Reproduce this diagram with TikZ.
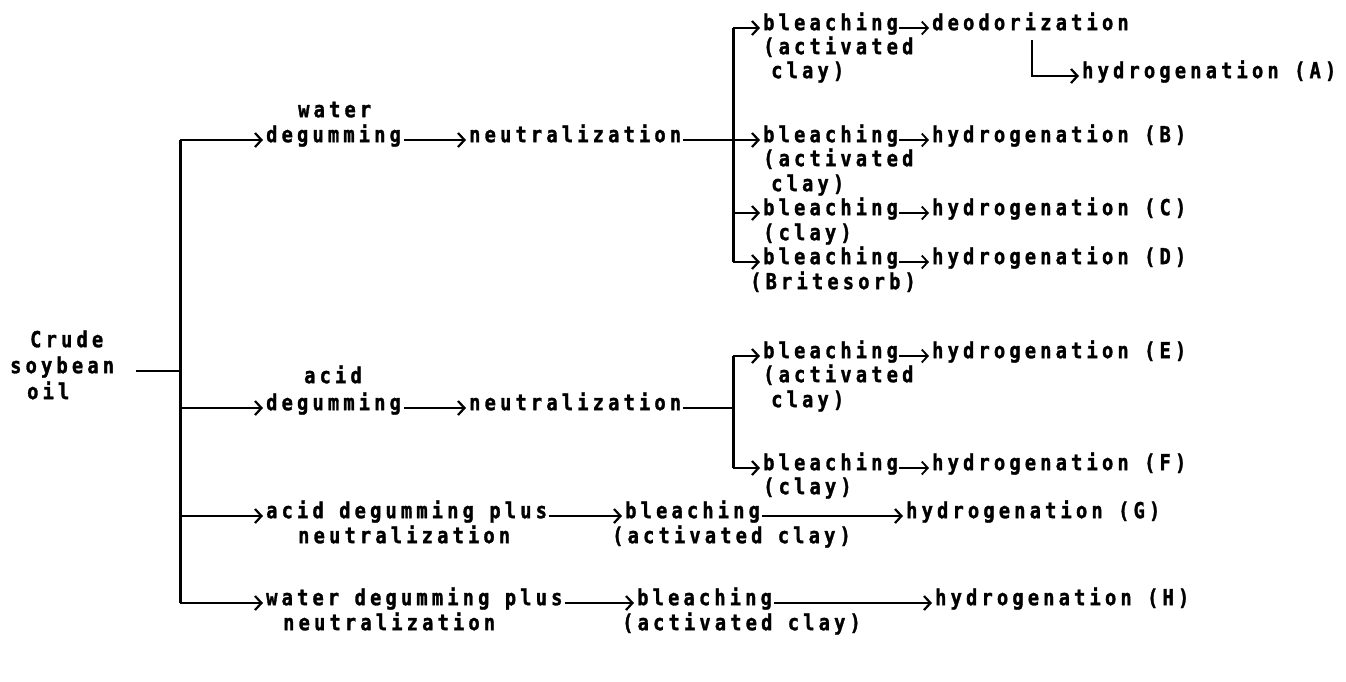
\documentclass[tikz,border=0pt]{standalone}
\usepackage{fontspec}
\newfontfamily\dfont[LetterSpace=19,FakeBold=1.4,FakeStretch=0.85]{DejaVu Sans Mono}
\usetikzlibrary{arrows.meta}
\begin{document}
\begin{tikzpicture}[x=1pt,y=-1pt,
  txt/.style={anchor=mid west,inner sep=0pt,font=\dfont\bfseries\fontsize{22}{26}\selectfont},
  conn/.style={line width=2.2pt},
  vert/.style={line width=3pt},
  arr/.style={conn,-{Straight Barb[length=6.5pt,width=14pt]},shorten >=3pt},
  sarr/.style={line width=1.8pt,-{Straight Barb[length=6pt,width=13pt]},shorten <=1pt,shorten >=3pt}]
\useasboundingbox[fill=white] (0,0) rectangle (1346,681);
% left label
\node[txt] (crude) at (30,345) {Crude};
\node[txt] (soy) at (10,371) {soybean};
\node[txt] (oil) at (27,397) {oil};
% first column
\node[txt] (waterA) at (298,115) {water};
\node[txt] (degW) at (266,140) {degumming};
\node[txt] (neutW) at (469,140) {neutralization};
\node[txt] (acidA) at (304,381) {acid};
\node[txt] (degA) at (266,408) {degumming};
\node[txt] (neutA) at (469,408) {neutralization};
\node[txt] (acidplus) at (266,516) {acid degumming plus};
\node[txt] (neutG) at (298,541) {neutralization};
\node[txt] (waterplus) at (266,603) {water degumming plus};
\node[txt] (neutH) at (283,628) {neutralization};
% G and H rows
\node[txt] (bleachG) at (625,516) {bleaching};
\node[txt] (actG) at (612,541) {(activated clay)};
\node[txt] (hydroG) at (906,516) {hydrogenation (G)};
\node[txt] (bleachH) at (637,603) {bleaching};
\node[txt] (actH) at (622,628) {(activated clay)};
\node[txt] (hydroH) at (935,603) {hydrogenation (H)};
% branch 1
\node[txt] (bleachA) at (763,28) {bleaching};
\node[txt] (deodor) at (932,28) {deodorization};
\node[txt] (actA) at (763,52) {(activated};
\node[txt] (clayA) at (771,76) {clay)};
\node[txt] (hydroA) at (1082,76) {hydrogenation (A)};
\node[txt] (bleachB) at (763,140) {bleaching};
\node[txt] (hydroB) at (932,140) {hydrogenation (B)};
\node[txt] (actB) at (763,164) {(activated};
\node[txt] (clayB) at (771,189) {clay)};
\node[txt] (bleachC) at (763,213) {bleaching};
\node[txt] (hydroC) at (932,213) {hydrogenation (C)};
\node[txt] (clayC) at (763,238) {(clay)};
\node[txt] (bleachD) at (763,262) {bleaching};
\node[txt] (hydroD) at (932,262) {hydrogenation (D)};
\node[txt] (brite) at (750,287) {(Britesorb)};
% branch 2
\node[txt] (bleachE) at (763,356) {bleaching};
\node[txt] (hydroE) at (932,356) {hydrogenation (E)};
\node[txt] (actE) at (763,380) {(activated};
\node[txt] (clayE) at (771,405) {clay)};
\node[txt] (bleachF) at (763,468) {bleaching};
\node[txt] (hydroF) at (932,468) {hydrogenation (F)};
\node[txt] (clayF) at (763,492) {(clay)};
% coordinates
\coordinate (soyL) at (136,371);
\coordinate (tSoy) at (180,371);
\coordinate (tW) at (180,140);
\coordinate (tA) at (180,408);
\coordinate (tG) at (180,516);
\coordinate (tH) at (180,603);
\coordinate (b1top) at (733,28);
\coordinate (b1mid) at (733,140);
\coordinate (b1c) at (733,213);
\coordinate (b1bot) at (733,262);
\coordinate (b2top) at (733,356);
\coordinate (b2mid) at (733,408);
\coordinate (b2bot) at (733,468);
\coordinate (dA) at (1032,40);
% trunk
\draw[conn] (soyL) -- (tSoy);
\draw[vert] (tW) -- (tH);
\draw[arr] (tW) -- (degW.mid west);
\draw[arr] (tA) -- (degA.mid west);
\draw[arr] (tG) -- (acidplus.mid west);
\draw[arr] (tH) -- (waterplus.mid west);
% first column arrows
\draw[arr,shorten <=3pt] (degW.mid east) -- (neutW.mid west);
\draw[arr,shorten <=3pt] (degA.mid east) -- (neutA.mid west);
\draw[arr,shorten <=2pt] (acidplus.mid east) -- (bleachG.mid west);
\draw[arr,shorten <=2pt] (waterplus.mid east) -- (bleachH.mid west);
\draw[arr,shorten <=2pt] (bleachG.mid east) -- (hydroG.mid west);
\draw[arr,shorten <=2pt] (bleachH.mid east) -- (hydroH.mid west);
% branch 1
\draw[conn,shorten <=2pt] (neutW.mid east) -- (b1mid);
\draw[vert] (b1top) -- (b1bot);
\draw[arr] (b1top) -- (bleachA.mid west);
\draw[arr] (b1mid) -- (bleachB.mid west);
\draw[arr] (b1c) -- (bleachC.mid west);
\draw[arr] (b1bot) -- (bleachD.mid west);
\draw[sarr] (bleachA.mid east) -- (deodor.mid west);
\draw[sarr] (bleachB.mid east) -- (hydroB.mid west);
\draw[sarr] (bleachC.mid east) -- (hydroC.mid west);
\draw[sarr] (bleachD.mid east) -- (hydroD.mid west);
\draw[arr] (dA) |- (hydroA.mid west);
% branch 2
\draw[conn,shorten <=2pt] (neutA.mid east) -- (b2mid);
\draw[vert] (b2top) -- (b2bot);
\draw[arr] (b2top) -- (bleachE.mid west);
\draw[arr] (b2bot) -- (bleachF.mid west);
\draw[sarr] (bleachE.mid east) -- (hydroE.mid west);
\draw[sarr] (bleachF.mid east) -- (hydroF.mid west);
\end{tikzpicture}
\end{document}
